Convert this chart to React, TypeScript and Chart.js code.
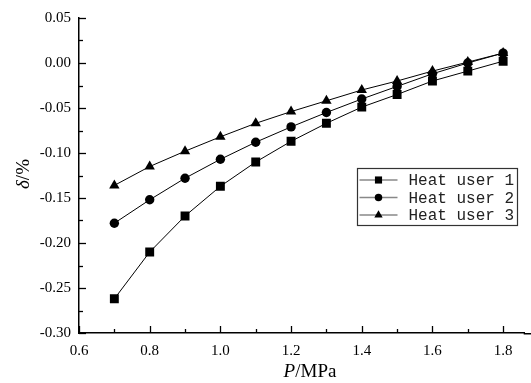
import React, { useEffect, useRef } from "react";
import { Chart, registerables } from "chart.js";

Chart.register(...registerables);

const pressures = [0.7, 0.8, 0.9, 1.0, 1.1, 1.2, 1.3, 1.4, 1.5, 1.6, 1.7, 1.8];
const user1 = [-0.262, -0.21, -0.17, -0.137, -0.11, -0.087, -0.067, -0.049, -0.035, -0.02, -0.009, 0.002];
const user2 = [-0.178, -0.152, -0.128, -0.107, -0.088, -0.071, -0.055, -0.04, -0.026, -0.012, 0.0, 0.011];
const user3 = [-0.136, -0.115, -0.098, -0.082, -0.067, -0.054, -0.042, -0.03, -0.02, -0.009, 0.001, 0.011];
const seriesNames = ["Heat user 1", "Heat user 2", "Heat user 3"];
const xTicks = [0.6, 0.7, 0.8, 0.9, 1.0, 1.1, 1.2, 1.3, 1.4, 1.5, 1.6, 1.7, 1.8];
const yTicks = [0.05, 0.025, 0, -0.025, -0.05, -0.075, -0.1, -0.125, -0.15, -0.175, -0.2, -0.225, -0.25, -0.275, -0.3];

const SERIF = "'Liberation Serif', 'DejaVu Serif', serif";
const STYLES = ["rect", "circle", "triangle"];
const RADII = [6.3, 4.7, 6];

function drawPointLocal(ctx: CanvasRenderingContext2D, style: string, r: number, x: number, y: number) {
  ctx.beginPath();
  if (style === "rect") {
    const s = Math.SQRT1_2 * r;
    ctx.rect(x - s, y - s, 2 * s, 2 * s);
  } else if (style === "circle") {
    ctx.arc(x, y, r, 0, Math.PI * 2);
  } else {
    ctx.moveTo(x, y - r);
    ctx.lineTo(x + r * 0.866, y + r / 2);
    ctx.lineTo(x - r * 0.866, y + r / 2);
    ctx.closePath();
  }
  ctx.fill();
}

const innerTicks = {
  id: "innerTicks",
  afterDraw(chart: any) {
    const ctx = chart.ctx;
    const x = chart.scales.x;
    const y = chart.scales.y;
    const area = chart.chartArea;
    ctx.save();
    ctx.strokeStyle = "#000";
    // extend bottom axis line to canvas edge
    ctx.lineWidth = 1.5;
    ctx.beginPath();
    ctx.moveTo(area.right - 1, area.bottom + 0.75);
    ctx.lineTo(chart.width, area.bottom + 0.75);
    ctx.stroke();
    ctx.lineWidth = 1.3;
    xTicks.forEach((v, i) => {
      const px = Math.round(x.getPixelForValue(v)) + 0.5;
      const len = i % 2 === 0 ? 7 : 4;
      ctx.beginPath();
      ctx.moveTo(px, area.bottom);
      ctx.lineTo(px, area.bottom - len);
      ctx.stroke();
    });
    yTicks.forEach((v, i) => {
      const py = Math.round(y.getPixelForValue(v)) + 0.5;
      const len = i % 2 === 0 ? 7 : 4;
      ctx.beginPath();
      ctx.moveTo(area.left, py);
      ctx.lineTo(area.left + len, py);
      ctx.stroke();
    });
    // axis titles
    ctx.fillStyle = "#000";
    ctx.textBaseline = "middle";
    ctx.font = `italic 19px ${SERIF}`;
    const w1 = ctx.measureText("P").width;
    ctx.font = `19px ${SERIF}`;
    const w2 = ctx.measureText("/MPa").width;
    const sx = 310 - (w1 + w2) / 2;
    ctx.textAlign = "left";
    ctx.font = `italic 19px ${SERIF}`;
    ctx.fillText("P", sx, 372);
    ctx.font = `19px ${SERIF}`;
    ctx.fillText("/MPa", sx + w1, 372);
    ctx.save();
    ctx.translate(24, 174);
    ctx.rotate(-Math.PI / 2);
    ctx.font = `italic 19px ${SERIF}`;
    const yw1 = ctx.measureText("δ").width;
    ctx.font = `19px ${SERIF}`;
    const yw2 = ctx.measureText("/%").width;
    const ys = -(yw1 + yw2) / 2;
    ctx.font = `italic 19px ${SERIF}`;
    ctx.fillText("δ", ys, 0);
    ctx.font = `19px ${SERIF}`;
    ctx.fillText("/%", ys + yw1, 0);
    ctx.restore();

    // legend box
    const bx = 357.5, by = 168.5, bw = 160, bh = 57;
    ctx.strokeStyle = "#333";
    ctx.lineWidth = 1.2;
    ctx.fillStyle = "#fff";
    ctx.fillRect(bx, by, bw, bh);
    ctx.strokeRect(bx, by, bw, bh);
    chart.data.datasets.forEach((ds: any, i: number) => {
      const ry = by + 11.5 + i * 17.5;
      ctx.strokeStyle = "#888";
      ctx.lineWidth = 1.5;
      ctx.beginPath();
      ctx.moveTo(bx + 2, ry);
      ctx.lineTo(bx + 40, ry);
      ctx.stroke();
      ctx.fillStyle = "#000";
      drawPointLocal(ctx, STYLES[i], RADII[i] * 0.8, bx + 21, ry);
      ctx.fillStyle = "#222";
      ctx.font = "16px 'Liberation Mono', 'DejaVu Sans Mono', monospace";
      ctx.textAlign = "left";
      ctx.textBaseline = "middle";
      ctx.fillText(ds.label, bx + 51, ry + 1);
    });
    ctx.restore();
  },
};

export default function App() {
  const ref = useRef<HTMLCanvasElement>(null);
  useEffect(() => {
    document.body.style.margin = "0";
    const mk = (vals: number[]) => pressures.map((p, i) => ({ x: p, y: vals[i] }));
    const chart = new Chart(ref.current!, {
      type: "line",
      data: {
        datasets: [user1, user2, user3].map((vals, i) => ({
          label: seriesNames[i],
          data: mk(vals),
          borderColor: "#000",
          backgroundColor: "#000",
          borderWidth: 1,
          pointStyle: STYLES[i] as any,
          pointRadius: RADII[i],
          pointBorderWidth: 0,
          pointBackgroundColor: "#000",
          tension: 0,
        })),
      },
      options: {
        animation: false,
        responsive: false,
        maintainAspectRatio: false,
        layout: { padding: { top: 18, right: 0, left: 0, bottom: 0 } },
        plugins: { legend: { display: false }, tooltip: { enabled: false } },
        scales: {
          x: {
            type: "linear",
            min: 0.6,
            max: 1.861,
            afterBuildTicks: (s: any) => {
              s.ticks = xTicks.filter((_, i) => i % 2 === 0).map((v) => ({ value: v }));
            },
            afterFit: (s: any) => {
              s.height = 50;
            },
            grid: { display: false, drawTicks: false },
            border: { display: true, color: "#000", width: 1.5 },
            ticks: {
              color: "#000",
              padding: 9,
              maxRotation: 0,
              autoSkip: false,
              font: { family: SERIF, size: 15 },
              callback: (v: any) => Number(v).toFixed(1),
            },
          },
          y: {
            type: "linear",
            min: -0.3,
            max: 0.05,
            afterBuildTicks: (s: any) => {
              s.ticks = yTicks.filter((_, i) => i % 2 === 0).map((v) => ({ value: v }));
            },
            afterFit: (s: any) => {
              s.width = 79;
            },
            grid: { display: false, drawTicks: false },
            border: { display: true, color: "#000", width: 1.5 },
            ticks: {
              color: "#000",
              padding: 8,
              autoSkip: false,
              font: { family: SERIF, size: 15 },
              callback: (v: any) => Number(v).toFixed(2),
            },
          },
        },
      },
      plugins: [innerTicks],
    });
    return () => chart.destroy();
  }, []);
  return <canvas ref={ref} width={531} height={383} style={{ display: "block" }} />;
}
